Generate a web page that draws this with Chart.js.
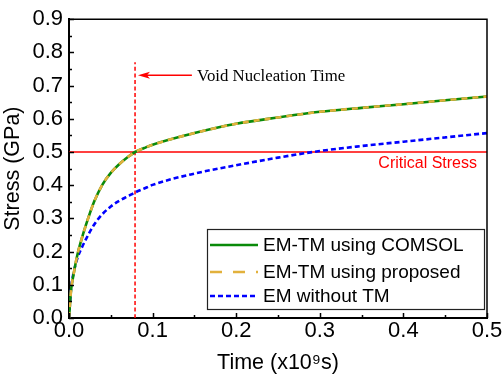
<!DOCTYPE html>
<html>
<head>
<meta charset="utf-8">
<script src="https://cdn.jsdelivr.net/npm/chart.js@4"></script>
<style>
  html, body { margin: 0; padding: 0; background: #fff; }
  #wrap { width: 503px; height: 379px; }
</style>
</head>
<body>
<div id="wrap"><canvas id="c" width="503" height="379"></canvas></div>
<script>
// ---- data ----
const times        = [0, 0.0025, 0.005, 0.01, 0.015, 0.02, 0.03, 0.04, 0.05, 0.06, 0.07, 0.079, 0.09, 0.1, 0.15, 0.2, 0.25, 0.3, 0.35, 0.4, 0.45, 0.5];
const emtmComsol   = [0, 0.085, 0.125, 0.19, 0.237, 0.278, 0.35, 0.402, 0.437, 0.463, 0.484, 0.50, 0.512, 0.522, 0.557, 0.585, 0.604, 0.621, 0.633, 0.644, 0.656, 0.667];
const emtmProposed = [0, 0.085, 0.125, 0.19, 0.237, 0.278, 0.35, 0.402, 0.437, 0.463, 0.484, 0.50, 0.512, 0.522, 0.557, 0.585, 0.604, 0.621, 0.633, 0.644, 0.656, 0.667];
const emWithoutTm  = [0, 0.09, 0.13, 0.18, 0.21, 0.236, 0.281, 0.313, 0.336, 0.353, 0.366, 0.378, 0.39, 0.401, 0.435, 0.46, 0.483, 0.503, 0.518, 0.531, 0.544, 0.557];
const criticalStress = 0.5;
const nucleationTime = 0.079;
const xTickLabels = ['0.0', '0.1', '0.2', '0.3', '0.4', '0.5'];
const yTickLabels = ['0.0', '0.1', '0.2', '0.3', '0.4', '0.5', '0.6', '0.7', '0.8', '0.9'];
const seriesNames = ['EM-TM using COMSOL', 'EM-TM using proposed', 'EM without TM'];

const pts = arr => times.map((t, i) => ({ x: t, y: arr[i] }));

const SANS = '"Liberation Sans", Arial, sans-serif';
const SERIF = '"Liberation Serif", "Times New Roman", serif';

const frame = {
  id: 'frame',
  afterDatasetsDraw(chart) {
    const { ctx, chartArea: a, scales: { x, y } } = chart;
    ctx.save();
    ctx.strokeStyle = '#000';
    // top and right frame
    ctx.lineWidth = 1.5;
    ctx.beginPath();
    ctx.moveTo(a.left, a.top); ctx.lineTo(a.right, a.top); ctx.lineTo(a.right, a.bottom);
    ctx.stroke();
    // inward ticks
    ctx.lineWidth = 1.5;
    ctx.beginPath();
    for (let v = 0; v <= 0.5001; v += 0.05) {
      const px = Math.round(x.getPixelForValue(v)) + 0.5;
      const major = Math.abs(v * 10 - Math.round(v * 10)) < 1e-6;
      ctx.moveTo(px, a.bottom); ctx.lineTo(px, a.bottom - (major ? 5 : 3));
    }
    for (let v = 0; v <= 0.9001; v += 0.05) {
      const py = Math.round(y.getPixelForValue(v)) + 0.5;
      const major = Math.abs(v * 10 - Math.round(v * 10)) < 1e-6;
      ctx.moveTo(a.left, py); ctx.lineTo(a.left + (major ? 5 : 3), py);
    }
    ctx.stroke();

    // arrow to nucleation time
    const ay = y.getPixelForValue(0.731);
    const ax0 = x.getPixelForValue(0.147);
    const ax1 = x.getPixelForValue(0.0825);
    ctx.strokeStyle = '#ff0000';
    ctx.fillStyle = '#ff0000';
    ctx.lineWidth = 1.5;
    ctx.beginPath(); ctx.moveTo(ax0, ay); ctx.lineTo(ax1 + 8, ay); ctx.stroke();
    ctx.beginPath();
    ctx.moveTo(ax1, ay);
    ctx.lineTo(ax1 + 12, ay - 3.5);
    ctx.lineTo(ax1 + 9, ay);
    ctx.lineTo(ax1 + 12, ay + 3.5);
    ctx.closePath(); ctx.fill();

    // texts
    ctx.fillStyle = '#000';
    ctx.font = '16.8px ' + SERIF;
    ctx.textBaseline = 'alphabetic';
    ctx.textAlign = 'left';
    ctx.fillText('Void Nucleation Time', x.getPixelForValue(0.1531), y.getPixelForValue(0.714));

    ctx.fillStyle = '#ff0000';
    ctx.font = '16px ' + SANS;
    ctx.textAlign = 'right';
    ctx.fillText('Critical Stress', a.right - 10, y.getPixelForValue(criticalStress) + 15.5);

    // legend
    const lx0 = a.left + 138, lx1 = a.right - 3, ly0 = a.bottom - 89, ly1 = a.bottom - 9;
    ctx.fillStyle = '#fff';
    ctx.fillRect(lx0, ly0, lx1 - lx0, ly1 - ly0);
    ctx.strokeStyle = '#222';
    ctx.lineWidth = 1.2;
    ctx.strokeRect(lx0 + 0.5, ly0 + 0.5, lx1 - lx0, ly1 - ly0);
    const ds = chart.data.datasets;
    const rows = [0, 1, 2];
    const rowY = [ly0 + 16, ly0 + 43, ly0 + 67];
    ctx.font = '19px ' + SANS;
    ctx.textAlign = 'left';
    ctx.textBaseline = 'middle';
    rows.forEach((di, k) => {
      const d = ds[di];
      ctx.save();
      ctx.strokeStyle = d.borderColor;
      ctx.lineWidth = d.borderWidth;
      ctx.setLineDash(di === 1 ? [12, 11] : (d.borderDash || []));
      ctx.beginPath(); ctx.moveTo(lx0 + 3, rowY[k]); ctx.lineTo(lx0 + 51, rowY[k]); ctx.stroke();
      ctx.restore();
      ctx.fillStyle = '#000';
      ctx.fillText(d.label, lx0 + 56, rowY[k] + 1);
    });
    ctx.restore();
  }
};

new Chart(document.getElementById('c'), {
  type: 'line',
  data: {
    datasets: [
      { label: seriesNames[0], data: pts(emtmComsol), borderColor: '#0a8a0a', borderWidth: 2.6, order: 2 },
      { label: seriesNames[1], data: pts(emtmProposed), borderColor: '#e2b13c', borderWidth: 2.6, borderDash: [6, 5], order: 1 },
      { label: seriesNames[2], data: pts(emWithoutTm), borderColor: '#0000ff', borderWidth: 2.6, borderDash: [5, 3], order: 3 },
      { label: 'critical', data: [{ x: 0, y: criticalStress }, { x: 0.5, y: criticalStress }], borderColor: '#ff0000', borderWidth: 1.5, order: 4 },
      { label: 'nucleation', data: [{ x: nucleationTime, y: 0 }, { x: nucleationTime, y: 0.77 }], borderColor: '#ff0000', borderWidth: 1.5, borderDash: [4, 2.5], order: 5 }
    ]
  },
  options: {
    responsive: false,
    animation: false,
    devicePixelRatio: 1,
    layout: { padding: { left: 0, right: 16, top: 16, bottom: 0 } },
    elements: { point: { radius: 0 }, line: { cubicInterpolationMode: 'monotone', fill: false } },
    plugins: { legend: { display: false }, tooltip: { enabled: false } },
    scales: {
      x: {
        type: 'linear', min: 0, max: 0.5,
        afterFit: s => { s.height = 61; },
        afterBuildTicks: s => { s.ticks = xTickLabels.map(v => ({ value: parseFloat(v) })); },
        ticks: { callback: (v, i) => xTickLabels[i], font: { family: SANS, size: 22 }, color: '#000', padding: 0, maxRotation: 0 },
        grid: { display: true, drawOnChartArea: false, drawTicks: false },
        border: { display: true, color: '#000', width: 2 },
        title: { display: true, text: 'Time (x10⁹s)', font: { family: SANS, size: 21.5 }, color: '#000', padding: { top: 0, bottom: 3 } }
      },
      y: {
        type: 'linear', min: 0, max: 0.9,
        afterFit: s => { s.width = 69; },
        afterBuildTicks: s => { s.ticks = yTickLabels.map(v => ({ value: parseFloat(v) })); },
        ticks: { callback: (v, i) => yTickLabels[i], font: { family: SANS, size: 22 }, color: '#000', padding: 6 },
        grid: { display: true, drawOnChartArea: false, drawTicks: false },
        border: { display: true, color: '#000', width: 2 },
        title: { display: true, text: 'Stress (GPa)', font: { family: SANS, size: 21.5 }, color: '#000', padding: { top: 0, bottom: 0 } }
      }
    }
  },
  plugins: [frame]
});
</script>
</body>
</html>
